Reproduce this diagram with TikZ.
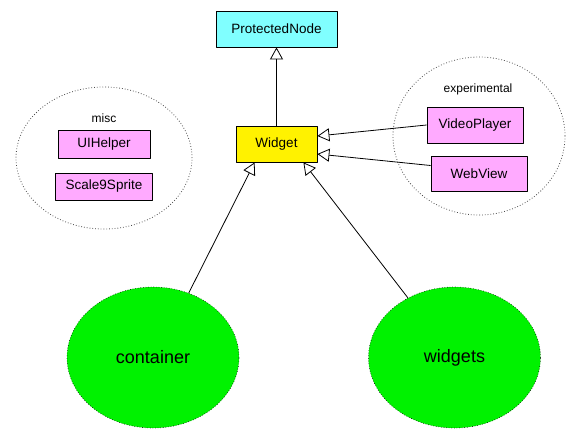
\documentclass[tikz,border=0pt]{standalone}
\usepackage{fontspec}
\setmainfont{Liberation Sans}
\usetikzlibrary{shapes.geometric,arrows.meta}
\definecolor{protcyan}{RGB}{128,255,255}
\definecolor{pkgpink}{RGB}{255,170,255}
\definecolor{pkggreen}{RGB}{0,242,0}

\begin{document}
\begin{tikzpicture}[x=1pt,y=-1pt,line join=round,
    classbox/.style={draw,line width=0.8pt,inner sep=0pt,font=\fontsize{13.5}{15}\selectfont},
    cluster/.style={ellipse,draw=black!70,dotted,line width=0.8pt,inner sep=0pt},
    pkg/.style={ellipse,draw,dotted,fill=pkggreen,line width=0.6pt,inner sep=0pt,
        minimum width=172pt,minimum height=141pt,font=\fontsize{18}{20}\selectfont},
    inherit/.style={line width=0.8pt,-{Triangle[open,length=12pt,width=13pt]}}]
    \useasboundingbox (0,0) rectangle (583,445);
    % clusters
    \node[cluster,minimum width=176pt,minimum height=142pt] (misc) at (104,158) {};
    \node[cluster,minimum width=172pt,minimum height=158pt] (experimental) at (479,136) {};
    \node[font=\fontsize{12}{14}\selectfont] (misclabel) at (104,118) {misc};
    \node[font=\fontsize{12}{14}\selectfont] (explabel) at (478,89) {experimental};
    % classes
    \node[classbox,fill=protcyan,minimum width=121pt,minimum height=36pt] (protected) at (276.5,29) {ProtectedNode};
    \node[classbox,fill=yellow,minimum width=81pt,minimum height=36pt] (widget) at (276.5,144) {Widget};
    \node[classbox,fill=pkgpink,minimum width=96pt,minimum height=36pt] (videoplayer) at (475,125) {VideoPlayer};
    \node[classbox,fill=pkgpink,minimum width=96pt,minimum height=35pt] (webview) at (479,173.5) {WebView};
    \node[classbox,fill=pkgpink,minimum width=92pt,minimum height=28pt] (uihelper) at (104,144.5) {UIHelper};
    \node[classbox,fill=pkgpink,minimum width=97pt,minimum height=27pt] (scale9) at (104,186.5) {Scale9Sprite};
    % packages
    \node[pkg] (container) at (153,357.5) {container};
    \node[pkg] (widgets) at (454.5,357.5) {widgets};
    % inheritance
    \draw[inherit] (widget.north) -- (protected.south);
    \draw[inherit] (videoplayer.west) -- ([yshift=8pt]widget.east);
    \draw[inherit] ([yshift=8pt]webview.west) -- ([yshift=-10pt]widget.east);
    \draw[inherit] (container.61.5) -- ([xshift=19pt]widget.south west);
    \draw[inherit] (widgets.128) -- ([xshift=-14pt]widget.south east);
\end{tikzpicture}
\end{document}
